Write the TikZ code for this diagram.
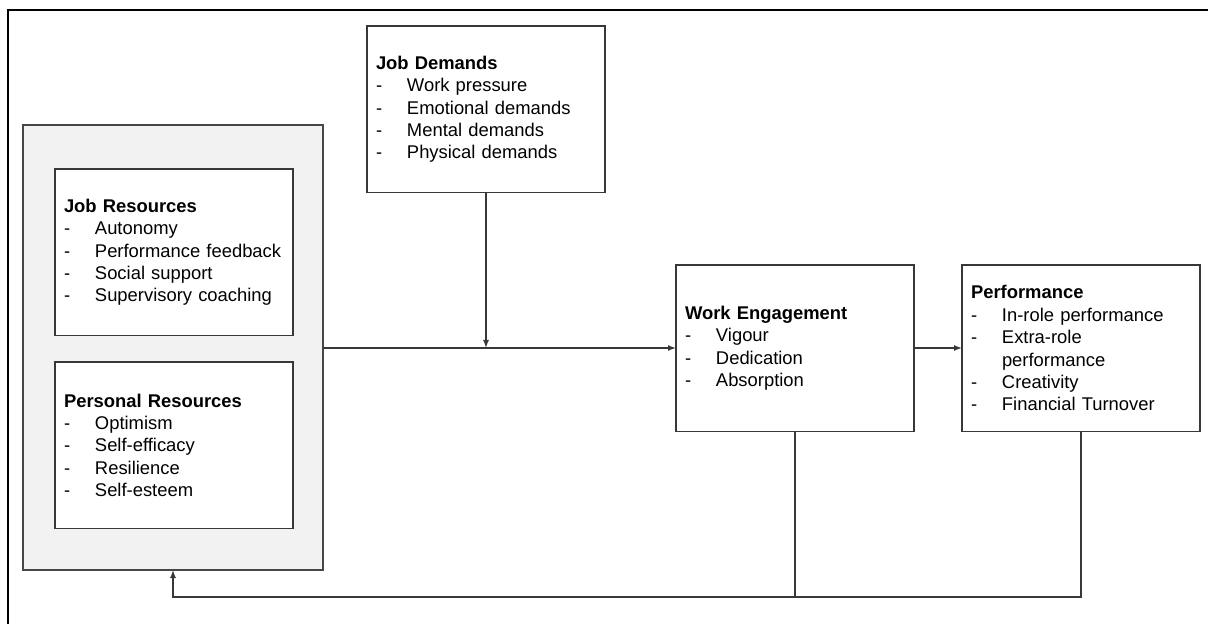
\documentclass[tikz,border=0pt]{standalone}
\usepackage{fontspec}
\setmainfont{Liberation Sans}
\usetikzlibrary{arrows.meta}
\newcommand{\itm}[1]{\makebox[23.25pt][l]{-}#1}
\begin{document}
\begin{tikzpicture}[x=0.75pt,y=-0.75pt,
  box/.style={draw=black!78,line width=1.15pt,fill=white,anchor=north west,
    minimum width=178.5pt,minimum height=125pt,inner xsep=6.75pt,inner ysep=0pt,
    text width=165pt,align=left,font=\fontsize{13.8}{16.8}\selectfont,outer sep=0pt},
  conn/.style={draw=black!78,line width=1pt},
  arr/.style={conn,-{Latex[length=6pt,width=4.5pt]}}]
\useasboundingbox (0,0) rectangle (1208,624);
\draw[line width=1.8pt] (8,624) -- (8,10) -- (1208,10);
\node[draw=black!72,line width=1.15pt,fill=black!5,anchor=north west,
  minimum width=225pt,minimum height=333.75pt,outer sep=0pt,inner sep=0pt] (res) at (23,125) {};
\node[box] (jr) at (55,169) {\textbf{Job Resources}\\\itm{Autonomy}\\\itm{Performance feedback}\\\itm{Social support}\\\itm{Supervisory coaching}};
\node[box] (pr) at (55,362) {\textbf{Personal Resources}\\\itm{Optimism}\\\itm{Self-efficacy}\\\itm{Resilience}\\\itm{Self-esteem}};
\node[box] (jd) at (367,26) {\textbf{Job Demands}\\\itm{Work pressure}\\\itm{Emotional demands}\\\itm{Mental demands}\\\itm{Physical demands}};
\node[box] (we) at (676,265) {\textbf{Work Engagement}\\\itm{Vigour}\\\itm{Dedication}\\\itm{Absorption}};
\node[box] (perf) at (962,265) {\textbf{Performance}\\\itm{In-role performance}\\\itm{Extra-role}\\\hspace*{23.25pt}performance\\\itm{Creativity}\\\itm{Financial Turnover}};
\coordinate (mid) at (486,348);
\coordinate (fb) at (173,597);
\draw[arr] (res.east |- mid) -- (we.west |- mid);
\draw[arr] (jd.south) -- (jd.south |- mid);
\draw[arr] (we.east |- mid) -- (perf.west |- mid);
\draw[conn] (we.south) -- (we.south |- fb);
\draw[arr] (perf.south) |- (fb) -- (fb |- res.south);
\end{tikzpicture}
\end{document}
